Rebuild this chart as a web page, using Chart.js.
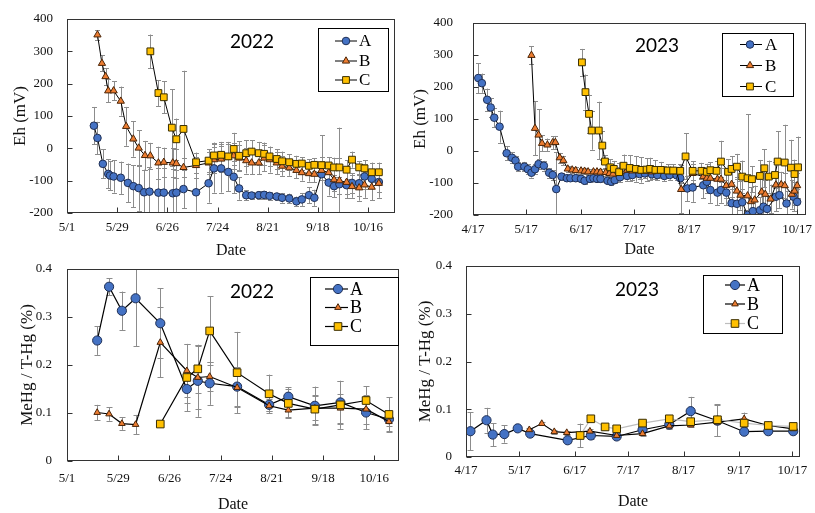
<!DOCTYPE html>
<html><head><meta charset="utf-8">
<script src="https://cdn.jsdelivr.net/npm/chart.js@4.4.1/dist/chart.umd.min.js"></script>
<style>
html,body{margin:0;padding:0;background:#fff;}
body{width:815px;height:513px;position:relative;overflow:hidden;}
canvas{position:absolute;}
</style></head><body>
<canvas id="c1" width="407" height="262" style="left:0;top:0"></canvas>
<canvas id="c2" width="415" height="262" style="left:400px;top:0"></canvas>
<canvas id="c3" width="410" height="263" style="left:0;top:250px"></canvas>
<canvas id="c4" width="410" height="263" style="left:405px;top:250px"></canvas>
<script>
// ---------- tick labels (x = day of year) ----------
const TICKS22 = [121,149,177,205,233,261,289];
const LABELS22 = ['5/1','5/29','6/26','7/24','8/21','9/18','10/16'];
const TICKS23 = [107,137,168,198,229,260,290];
const LABELS23 = ['4/17','5/17','6/17','7/17','8/17','9/17','10/17'];
const SERIES = ['A','B','C'];

// ---------- 2022 Eh (mV) ----------
const eh22DatesA = [136,138,141,144,145,147,151,155,158,161,164,167,172,175,180,182,186,193,200,203,207,211,214,217,221,224,228,231,234,238,241,245,249,252,256,259,263,267,270,273,277,280,284,287,291,295];
const eh22A = [70,32,-48,-79,-84,-87,-91,-107,-117,-123,-136,-134,-137,-137,-139,-137,-126,-136,-108,-62,-62,-73,-88,-124,-145,-146,-145,-144,-147,-149,-153,-155,-164,-158,-145,-153,-80,-106,-117,-111,-114,-107,-108,-87,-94,-104];
const eh22ErrA = [58,50,45,45,45,50,50,60,65,70,70,75,75,75,75,70,60,60,60,75,75,60,50,35,15,12,12,12,12,12,15,15,15,20,25,25,120,40,35,175,40,30,40,40,30,30];
const eh22DatesB = [138,140.5,142.5,144,147,151,154,158,161,164.5,167.5,172,175,180,182,186,193,200,203,207,211,214,217,221,224,228,231,234,238,241,245,249,252,256,259,263,267,270,273,277,280,284,287,291,295];
const eh22B = [351,263,222,178,178,146,68,29,1,-22,-23,-45,-43,-45,-47,-59,-53,-45,-35,-33,-28,-23,-30,-38,-45,-45,-30,-35,-45,-55,-60,-68,-75,-78,-80,-68,-75,-97,-100,-105,-118,-122,-113,-120,-108];
const eh22ErrB = [15,25,25,35,30,45,60,55,55,45,40,50,45,45,45,30,40,35,40,40,40,40,40,40,35,35,40,40,35,30,25,25,25,25,25,30,30,35,40,35,35,40,40,40,45];
const eh22DatesC = [167.5,172,175,179.5,182,186,193,200,203,207,211,214,217,221,224,228,231,234,238,241,245,249,252,256,259,263,267,270,273,277,280,284,287,291,295];
const eh22C = [300,171,158,64,28,60,-43,-38,-22,-20,-25,-2,-23,-15,-10,-15,-17,-25,-33,-40,-43,-48,-47,-54,-51,-52,-53,-59,-59,-66,-35,-59,-62,-74,-74];
const eh22ErrC = [52,40,50,118,64,180,15,35,40,40,45,50,45,40,35,35,35,30,30,30,25,25,20,20,20,25,25,30,30,30,25,20,25,30,30];

// ---------- 2023 Eh (mV) ----------
const eh23DatesA = [110,112,115,117,119,122,126,129,131,132.5,136,138,140,142,144,147,150,152,154,157,160,162,165,168,170,173,175,177,179,183,185,187,190,194,197,201,204,208,211,215,218,222,224,228,231,237,239,241,245,247,250,253,256,259,262,265,269,271,273,278,280,284,288,290];
const eh23A = [228,212,160,136,104,76,-7,-21,-30,-49,-49,-57,-68,-57,-41,-46,-68,-75,-119,-80,-85,-85,-85,-87,-93,-87,-85,-87,-87,-93,-96,-91,-82,-78,-75,-72,-70,-73,-75,-78,-75,-76,-85,-117,-114,-107,-96,-122,-130,-122,-130,-163,-165,-160,-200,-188,-185,-174,-181,-143,-138,-164,-143,-159];
const eh23ErrA = [47,30,35,30,30,50,22,18,15,15,15,15,15,15,15,15,15,15,115,10,10,10,10,10,10,10,10,10,10,10,10,10,15,15,15,15,15,15,15,15,15,15,15,40,45,40,35,40,40,40,40,45,40,40,40,40,40,40,40,45,40,40,45,40];
const eh23DatesB = [140,142,144,146,149,152,153.5,156,158,160.5,163,165,168,170,172,175,177,179,182,184,186,190,194,197,201,204,208,211,215,218,222,224.5,231,237,239,241,245,247,250,253,256,258,262,264,266,270,272,275,278,281,283,287,288.5,290];
const eh23B = [299,71,50,24,19,26,27,-21,-30,-56,-59,-61,-62,-63,-65,-65,-65,-66,-67,-70,-72,-65,-60,-62,-62,-63,-65,-62,-63,-64,-65,-120,-70,-80,-85,-85,-88,-88,-108,-104,-125,-138,-140,-158,-153,-128,-135,-150,-106,-105,-108,-135,-125,-108];
const eh23ErrB = [28,85,80,25,20,20,20,15,15,10,10,10,10,10,10,10,10,10,10,10,10,15,15,15,15,15,15,15,15,15,15,75,30,30,30,30,30,35,40,40,45,45,45,45,45,40,45,45,40,40,40,45,45,40];
const eh23DatesC = [168.5,170.5,172.5,174,178,180,181.5,184.5,186.5,189.5,192,195.5,199,202,205,207,210,213,217,220,224,227,231,236,239,241,244.5,247,251,253,256,259,262,264.5,269,271.5,274,277.5,279,283,286.5,288.5,290.5];
const eh23C = [277,184,116,64,64,17,-33,-51,-56,-66,-46,-53,-56,-59,-58,-56,-59,-59,-61,-61,-62,-17,-62,-62,-65,-60,-62,-33,-65,-56,-49,-80,-85,-88,-78,-54,-80,-75,-33,-36,-52,-72,-51];
const eh23ErrC = [42,55,60,60,90,45,20,25,25,30,35,40,40,40,35,35,30,25,20,20,20,72,30,25,25,25,30,65,40,40,40,50,200,40,50,60,50,40,95,118,87,45,96];

// ---------- 2022 MeHg / T-Hg (%) ----------
const mh22DatesAB = [137.5,144,151,158.5,172,186.5,192.5,199,214,231.5,242,256.5,270.5,284.5,297];
const mh22A = [0.251,0.363,0.313,0.339,0.287,0.150,0.167,0.162,0.155,0.117,0.134,0.115,0.122,0.101,0.087];
const mh22ErrA = [0.03,0.018,0.04,0.1,0.073,0.03,0.075,0.045,0.04,0.012,0.02,0.04,0.045,0.035,0.015];
const mh22B = [0.101,0.098,0.078,0.076,0.247,0.188,0.174,0.176,0.153,0.115,0.106,0.110,0.110,0.108,0.082];
const mh22ErrB = [0.016,0.014,0.013,0.02,0.073,0.055,0.065,0.03,0.04,0.01,0.015,0.025,0.03,0.03,0.02];
const mh22DatesC = [172,186.5,192.5,199,214,231.5,242,256.5,270.5,284.5,297];
const mh22C = [0.077,0.174,0.192,0.271,0.184,0.140,0.120,0.108,0.117,0.126,0.097];
const mh22ErrC = [0.004,0.07,0.05,0.072,0.085,0.04,0.03,0.03,0.05,0.03,0.036];

// ---------- 2023 MeHg / T-Hg (%) ----------
const mh23DatesA = [109.5,118.5,122,128.5,136,143,164,177,191.5,206,221,233,248,263,276.5,290.5];
const mh23A = [0.054,0.077,0.047,0.048,0.060,0.049,0.035,0.045,0.043,0.057,0.068,0.096,0.076,0.053,0.054,0.054];
const mh23ErrA = [0.04,0.026,0.024,0.018,0.005,0.005,0.005,0.008,0.005,0.01,0.01,0.03,0.033,0.005,0.005,0.005];
const mh23DatesB = [142.5,149.5,156.5,163.5,176.5,191.5,206,221,233,248,263,276.5,290.5];
const mh23B = [0.057,0.070,0.053,0.051,0.054,0.045,0.049,0.065,0.067,0.073,0.080,0.066,0.059];
const mh23ErrB = [0.004,0.004,0.004,0.004,0.004,0.004,0.004,0.004,0.004,0.004,0.013,0.004,0.004];
const mh23DatesC = [171,177,185,191.5,206,221,233,248,263,276.5,290.5];
const mh23C = [0.045,0.080,0.063,0.059,0.071,0.080,0.074,0.078,0.071,0.066,0.064];
const mh23ErrC = [0.025,0.004,0.004,0.004,0.004,0.004,0.004,0.033,0.008,0.004,0.004];

// ---------- styles ----------
const STY = {
  A: {shape:'circle', bg:'#4472C4', bd:'#1F2F55'},
  B: {shape:'triangle', bg:'#ED7D31', bd:'#4a2508'},
  C: {shape:'rect', bg:'#FFC000', bd:'#3a2e00'}
};
Chart.defaults.font.family = "'Liberation Serif','Times New Roman',serif";
Chart.defaults.color = '#111';

function drawMarker(ctx, shape, r, x, y) {
  ctx.beginPath();
  if (shape === 'circle') { ctx.arc(x, y, r, 0, Math.PI*2); }
  else if (shape === 'triangle') {
    for (let k = 0; k < 3; k++) {
      const a = -Math.PI/2 + k*2*Math.PI/3;
      const px = x + Math.cos(a)*r, py = y + Math.sin(a)*r;
      k ? ctx.lineTo(px, py) : ctx.moveTo(px, py);
    }
    ctx.closePath();
  } else { const h = r*Math.SQRT1_2; ctx.rect(x-h, y-h, 2*h, 2*h); }
  ctx.fill(); ctx.stroke();
}

function buildPanel(id, s) {
  const datasets = s.series.map((se, i) => ({
    label: se.name,
    data: se.dates.map((d, j) => ({x: d, y: se.vals[j]})),
    showLine: true,
    borderColor: se.line || '#000',
    borderWidth: s.lineW,
    pointStyle: STY[se.name].shape,
    pointRadius: s.sizes[se.name],
    pointHoverRadius: s.sizes[se.name],
    pointBackgroundColor: STY[se.name].bg,
    pointBorderColor: STY[se.name].bd,
    pointBorderWidth: 1,
    order: 3 - i
  }));
  const deco = {
    id: 'deco' + id,
    beforeDatasetsDraw(chart) {
      const {ctx, chartArea: ca, scales: {x, y}} = chart;
      ctx.save();
      ctx.beginPath(); ctx.rect(ca.left, ca.top, ca.right - ca.left, ca.bottom - ca.top); ctx.clip();
      ctx.strokeStyle = '#8c8c8c'; ctx.lineWidth = 1;
      s.series.forEach(se => {
        se.dates.forEach((d, j) => {
          const px = Math.round(x.getPixelForValue(d)) + 0.5;
          const y1 = y.getPixelForValue(se.vals[j] + se.errs[j]);
          const y2 = y.getPixelForValue(se.vals[j] - se.errs[j]);
          ctx.beginPath();
          ctx.moveTo(px, y1); ctx.lineTo(px, y2);
          ctx.moveTo(px - s.cap, Math.round(y1)+0.5); ctx.lineTo(px + s.cap, Math.round(y1)+0.5);
          ctx.moveTo(px - s.cap, Math.round(y2)+0.5); ctx.lineTo(px + s.cap, Math.round(y2)+0.5);
          ctx.stroke();
        });
      });
      ctx.restore();
    },
    afterDraw(chart) {
      const {ctx, chartArea: ca, scales: {x, y}} = chart;
      ctx.save();
      ctx.strokeStyle = '#333'; ctx.lineWidth = 1;
      const L = Math.round(ca.left) + 0.5, R = Math.round(ca.right) - 0.5;
      const T = Math.round(ca.top) + 0.5, B = Math.round(ca.bottom) - 0.5;
      ctx.strokeRect(L, T, R - L, B - T);
      ctx.beginPath();
      y.ticks.forEach(t => { const py = Math.round(y.getPixelForValue(t.value)) + 0.5; ctx.moveTo(L, py); ctx.lineTo(L + 5, py); });
      x.ticks.forEach(t => { const px = Math.round(x.getPixelForValue(t.value)) + 0.5; ctx.moveTo(px, B); ctx.lineTo(px, B - 5); });
      ctx.stroke();
      // year label
      ctx.fillStyle = '#000'; ctx.font = '19px Lato'; ctx.textAlign = 'center'; ctx.textBaseline = 'middle';
      ctx.fillText(s.year.text, s.year.x, s.year.y);
      // legend
      const lg = s.legend;
      ctx.strokeStyle = '#000'; ctx.lineWidth = 1;
      ctx.strokeRect(lg.box[0] + 0.5, lg.box[1] + 0.5, lg.box[2] - lg.box[0], lg.box[3] - lg.box[1]);
      s.series.forEach((se, i) => {
        const yy = lg.ys[i];
        ctx.strokeStyle = se.line || '#000'; ctx.lineWidth = s.lineW;
        ctx.beginPath(); ctx.moveTo(lg.lineX[0], yy); ctx.lineTo(lg.lineX[1], yy); ctx.stroke();
        ctx.fillStyle = STY[se.name].bg; ctx.strokeStyle = STY[se.name].bd; ctx.lineWidth = 1;
        drawMarker(ctx, STY[se.name].shape, s.sizes[se.name], lg.markX, yy);
        ctx.fillStyle = '#000'; ctx.font = lg.font; ctx.textAlign = 'left'; ctx.textBaseline = 'middle';
        ctx.fillText(se.name, lg.textX, yy + 1);
      });
      ctx.restore();
    }
  };
  const zeroPad = sc => { sc.paddingLeft = 0; sc.paddingRight = 0; sc.paddingTop = 0; sc.paddingBottom = 0; };
  return new Chart(document.getElementById(id), {
    type: 'scatter',
    data: {datasets},
    options: {
      responsive: false, animation: false, devicePixelRatio: 1,
      layout: {padding: s.pad},
      plugins: {legend: {display: false}, tooltip: {enabled: false}},
      scales: {
        x: {
          type: 'linear', min: s.xMin, max: s.xMax,
          afterBuildTicks: sc => { sc.ticks = s.ticks.map(v => ({value: v})); },
          ticks: {autoSkip: false, maxRotation: 0, padding: s.xTickPad, font: {size: 13}, color: '#111',
                  callback: (v, i) => s.labels[i]},
          grid: {display: false, drawTicks: false},
          border: {display: false},
          title: {display: true, text: 'Date', font: {size: 16, lineHeight: 1}, padding: {top: 0, bottom: s.xTitlePad}, color: '#111'},
          afterFit: sc => { sc.height = s.xH; zeroPad(sc); }
        },
        y: {
          min: s.yMin, max: s.yMax,
          ticks: {stepSize: s.yStep, padding: s.yTickPad, font: {size: 13}, color: '#111'},
          grid: {display: false, drawTicks: false},
          border: {display: false},
          title: {display: true, text: s.yTitle, font: {size: 17}, padding: {top: s.yTitlePad, bottom: 0}, color: '#111'},
          afterFit: sc => { sc.width = s.yW; zeroPad(sc); }
        }
      }
    },
    plugins: [deco]
  });
}

const TOP_SIZES = {A: 3.8, B: 4.2, C: 4.8};
const BOT_SIZES = {A: 4.6, B: 3.8, C: 5.4};

buildPanel('c1', {
  xMin: 121, xMax: 304, ticks: TICKS22, labels: LABELS22,
  yMin: -200, yMax: 400, yStep: 100, yTitle: 'Eh (mV)',
  pad: {left: 0, top: 19, right: 12, bottom: 0}, yW: 67, xH: 49,
  yTickPad: 14, yTitlePad: 10, xTickPad: 7, xTitlePad: 3,
  lineW: 1, cap: 2.5, sizes: TOP_SIZES,
  series: [
    {name: 'A', dates: eh22DatesA, vals: eh22A, errs: eh22ErrA},
    {name: 'B', dates: eh22DatesB, vals: eh22B, errs: eh22ErrB},
    {name: 'C', dates: eh22DatesC, vals: eh22C, errs: eh22ErrC}
  ],
  year: {text: '2022', x: 252, y: 42},
  legend: {box: [318, 28, 388, 91], ys: [41, 61, 80], lineX: [335, 357], markX: 346, textX: 359, font: "17px 'Liberation Serif'"}
});

buildPanel('c2', {
  xMin: 107, xMax: 295, ticks: TICKS23, labels: LABELS23,
  yMin: -200, yMax: 400, yStep: 100, yTitle: 'Eh (mV)',
  pad: {left: 0, top: 23, right: 9, bottom: 0}, yW: 73, xH: 47,
  yTickPad: 20, yTitlePad: 10, xTickPad: 7, xTitlePad: 4,
  lineW: 1, cap: 2.5, sizes: TOP_SIZES,
  series: [
    {name: 'A', dates: eh23DatesA, vals: eh23A, errs: eh23ErrA},
    {name: 'B', dates: eh23DatesB, vals: eh23B, errs: eh23ErrB},
    {name: 'C', dates: eh23DatesC, vals: eh23C, errs: eh23ErrC}
  ],
  year: {text: '2023', x: 257, y: 46},
  legend: {box: [322, 33, 393, 96], ys: [44.5, 65.5, 86.5], lineX: [340, 362], markX: 350, textX: 365, font: "17px 'Liberation Serif'"}
});

buildPanel('c3', {
  xMin: 121, xMax: 302.5, ticks: TICKS22, labels: LABELS22,
  yMin: 0, yMax: 0.4, yStep: 0.1, yTitle: 'MeHg / T-Hg (%)',
  pad: {left: 0, top: 19, right: 11, bottom: 0}, yW: 67, xH: 52,
  yTickPad: 15, yTitlePad: 17, xTickPad: 10, xTitlePad: 0,
  lineW: 1.2, cap: 3, sizes: BOT_SIZES,
  series: [
    {name: 'A', dates: mh22DatesAB, vals: mh22A, errs: mh22ErrA},
    {name: 'B', dates: mh22DatesAB, vals: mh22B, errs: mh22ErrB},
    {name: 'C', dates: mh22DatesC, vals: mh22C, errs: mh22ErrC}
  ],
  year: {text: '2022', x: 252, y: 42},
  legend: {box: [310, 27, 398, 95], ys: [39, 57.5, 76.5], lineX: [325, 348], markX: 338, textX: 350, font: "18px 'Liberation Serif'"}
});

buildPanel('c4', {
  xMin: 107, xMax: 294.3, ticks: TICKS23, labels: LABELS23,
  yMin: 0, yMax: 0.4, yStep: 0.1, yTitle: 'MeHg / T-Hg (%)',
  pad: {left: 0, top: 16, right: 15, bottom: 0}, yW: 61, xH: 56,
  yTickPad: 14, yTitlePad: 10, xTickPad: 6, xTitlePad: 3,
  lineW: 1.2, cap: 3, sizes: BOT_SIZES,
  series: [
    {name: 'A', dates: mh23DatesA, vals: mh23A, errs: mh23ErrA},
    {name: 'B', dates: mh23DatesB, vals: mh23B, errs: mh23ErrB},
    {name: 'C', dates: mh23DatesC, vals: mh23C, errs: mh23ErrC, line: '#bdbdbd'}
  ],
  year: {text: '2023', x: 232, y: 40},
  legend: {box: [298, 25, 377, 83], ys: [35, 54, 73.5], lineX: [320, 340], markX: 330, textX: 342, font: "18px 'Liberation Serif'"}
});
</script>
</body></html>
